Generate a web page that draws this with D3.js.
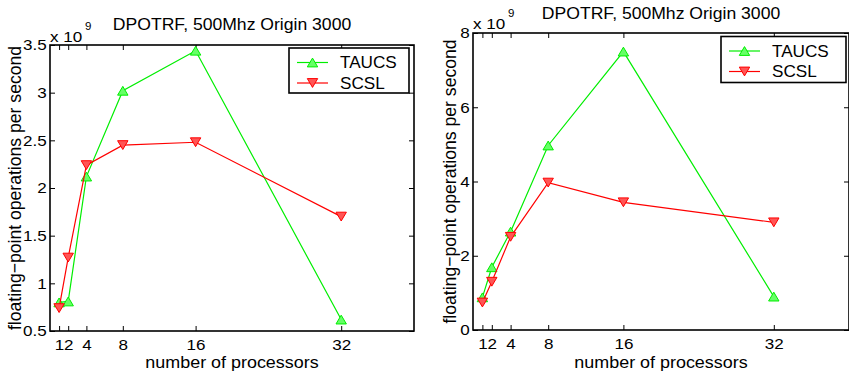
<!DOCTYPE html>
<html><head><meta charset="utf-8">
<script src="https://cdn.jsdelivr.net/npm/d3@7"></script>
<style>
body{margin:0;background:#fff}
text{font-family:"Liberation Sans",Arial,Helvetica,sans-serif;fill:#000}
</style>
</head><body>
<svg id="c" width="849" height="376"></svg>
<script>
// ---- data ----
const processors = [1, 2, 4, 8, 16, 32];
const xTickValues = [1, 2, 4, 8, 16, 32];
const seriesNames = ["TAUCS", "SCSL"];
const chartTitle = "DPOTRF, 500Mhz Origin 3000";
const xLabel = "number of processors";
const yLabel = "floating\u2212point operations per second";
const exponentBase = "x 10";
const exponentLabel = "9";

const leftTaucs = [0.80, 0.81, 2.12, 3.02, 3.44, 0.62];
const leftScsl  = [0.74, 1.27, 2.24, 2.45, 2.48, 1.70];
const leftYTicks = [0.5, 1, 1.5, 2, 2.5, 3, 3.5];
const leftYTickLabels = ["0.5", "1", "1.5", "2", "2.5", "3", "3.5"];

const rightTaucs = [0.88, 1.69, 2.65, 4.97, 7.50, 0.90];
const rightScsl  = [0.74, 1.30, 2.51, 3.97, 3.44, 2.90];
const rightYTicks = [0, 2, 4, 6, 8];
const rightYTickLabels = ["0", "2", "4", "6", "8"];

// ---- layout ----
const SX = 1.1; // horizontal glyph stretch seen in the reference
const svg = d3.select("#c");
const colors = {TAUCS: "#00ee00", SCSL: "#ff0000"};
const fills = {TAUCS: "#66ff66", SCSL: "#ff5555"};
const panels = [
  {x0: 50, x1: 414, y0: 45, y1: 331, yDomain: [0.5, 3.5], yTicks: leftYTicks, yTickLabels: leftYTickLabels,
   data: {TAUCS: leftTaucs, SCSL: leftScsl}, titleY: 29.5, expY: 41.5, supY: 30,
   ylabX: 20.5, legend: {x: 289, y: 48, w: 120, h: 45}},
  {x0: 473, x1: 849, y0: 33, y1: 330, yDomain: [0, 8], yTicks: rightYTicks, yTickLabels: rightYTickLabels,
   data: {TAUCS: rightTaucs, SCSL: rightScsl}, titleY: 19, expY: 28.5, supY: 17,
   ylabX: 456, legend: {x: 721, y: 36.5, w: 125, h: 46}}
];

function triPath(up) {
  const w = 5.2, h = 4.4;
  return up ? `M0,${-h}L${w},${h}L${-w},${h}Z` : `M0,${h}L${w},${-h}L${-w},${-h}Z`;
}
function addText(parent, x, y, size, str, anchor) {
  return parent.append("text")
    .attr("transform", `translate(${x},${y}) scale(${SX},1)`)
    .attr("text-anchor", anchor || "start").attr("font-size", size).text(str);
}

panels.forEach(p => {
  const x = d3.scaleLinear().domain([0, 40]).range([p.x0, p.x1]);
  const y = d3.scaleLinear().domain(p.yDomain).range([p.y1, p.y0]);
  const g = svg.append("g");

  // axes
  const bottom = g.append("g").attr("transform", `translate(0,${p.y1})`)
    .call(d3.axisBottom(x).tickValues(xTickValues).tickFormat(d3.format("d"))
      .tickSizeInner(-5).tickSizeOuter(0).tickPadding(8));
  const top = g.append("g").attr("transform", `translate(0,${p.y0})`)
    .call(d3.axisTop(x).tickValues(xTickValues).tickFormat("")
      .tickSizeInner(-5).tickSizeOuter(0));
  const left = g.append("g").attr("transform", `translate(${p.x0},0)`)
    .call(d3.axisLeft(y).tickValues(p.yTicks).tickFormat((d, i) => p.yTickLabels[i])
      .tickSizeInner(-5).tickSizeOuter(0).tickPadding(3));
  const right = g.append("g").attr("transform", `translate(${p.x1},0)`)
    .call(d3.axisRight(y).tickValues(p.yTicks).tickFormat("")
      .tickSizeInner(-5).tickSizeOuter(0));
  [bottom, top, left, right].forEach(a => {
    a.select(".domain").remove();
    a.selectAll(".tick line").attr("stroke", "#000").attr("stroke-width", 1);
    a.selectAll("text").attr("font-size", 15.5).attr("fill", "#000")
      .attr("transform", `scale(${SX},1)`)
      .style("font-family", '"Liberation Sans",Arial,Helvetica,sans-serif');
  });

  // series
  seriesNames.forEach(name => {
    const vals = p.data[name];
    const pts = processors.map((d, i) => [x(d), y(vals[i])]);
    g.append("path").attr("d", d3.line()(pts)).attr("fill", "none")
      .attr("stroke", colors[name]).attr("stroke-width", 1.2);
    g.selectAll(null).data(pts).enter().append("path")
      .attr("transform", d => `translate(${d[0]},${d[1]})`)
      .attr("d", triPath(name === "TAUCS"))
      .attr("fill", fills[name])
      .attr("stroke", colors[name]).attr("stroke-width", 1);
  });

  // box
  g.append("rect").attr("x", p.x0).attr("y", p.y0)
    .attr("width", p.x1 - p.x0).attr("height", p.y1 - p.y0)
    .attr("fill", "none").attr("stroke", "#000").attr("stroke-width", 1.6);

  // title
  addText(g, (p.x0 + p.x1) / 2, p.titleY, 16, chartTitle, "middle");
  // exponent
  addText(g, p.x0, p.expY, 15.5, exponentBase);
  addText(g, p.x0 + 35, p.supY, 10.5, exponentLabel);
  // x label
  addText(g, (p.x0 + p.x1) / 2, 367.5, 16.3, xLabel, "middle");
  // y label
  g.append("text")
    .attr("transform", `translate(${p.ylabX},${(p.y0 + p.y1) / 2}) scale(1.03,1) rotate(-90)`)
    .attr("text-anchor", "middle").attr("font-size", 17.6).text(yLabel);

  // legend
  const L = p.legend;
  const lg = g.append("g");
  lg.append("rect").attr("x", L.x).attr("y", L.y).attr("width", L.w).attr("height", L.h)
    .attr("fill", "#fff").attr("stroke", "#000").attr("stroke-width", 1.6);
  seriesNames.forEach((name, i) => {
    const cy = L.y + 14.5 + i * 20.5;
    lg.append("line").attr("x1", L.x + 8).attr("x2", L.x + 39).attr("y1", cy).attr("y2", cy)
      .attr("stroke", colors[name]).attr("stroke-width", 1.2);
    lg.append("path").attr("transform", `translate(${L.x + 23.5},${cy})`)
      .attr("d", triPath(name === "TAUCS"))
      .attr("fill", fills[name])
      .attr("stroke", colors[name]).attr("stroke-width", 1);
    addText(lg, L.x + 51, cy + 5.6, 15.6, name);
  });
});
</script>
</body></html>
